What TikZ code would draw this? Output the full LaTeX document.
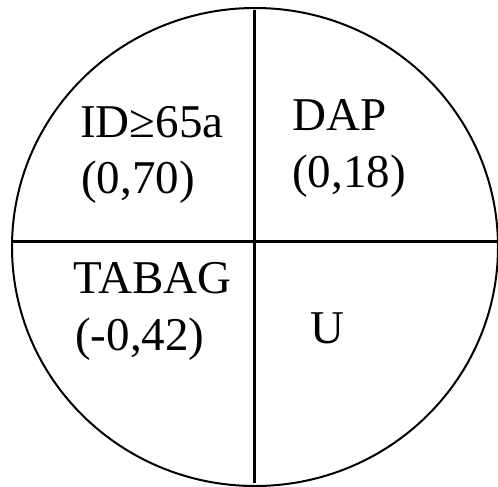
\documentclass[tikz,border=0pt]{standalone}
\usepackage{fontspec}
\setmainfont{Liberation Serif}
\begin{document}
\begin{tikzpicture}[x=1pt,y=-1pt,
  lbl/.style={anchor=base west,inner sep=0pt,font=\fontsize{47}{52}\selectfont},
  divider/.style={line width=3pt},
  rim/.style={line width=2pt}]
\useasboundingbox (0,0) rectangle (498,487);
\clip (0,0) rectangle (498,487);
\draw[rim] (255,247) ellipse [x radius=243, y radius=239];
\coordinate (vtop) at (254,10);
\coordinate (vbot) at (254,483);
\coordinate (hleft) at (13,241);
\coordinate (hright) at (500,241);
\draw[divider] (vtop) -- (vbot);
\draw[divider] (hleft) -- (hright);
\node[lbl] (id) at (80,137) {ID≥65a};
\node[lbl] (idv) at (81,193) {(0,70)};
\node[lbl] (dap) at (292,130) {DAP};
\node[lbl] (dapv) at (292,187) {(0,18)};
\node[lbl] (tab) at (73,293) {TABAG};
\node[lbl] (tabv) at (75,350) {(-0,42)};
\node[lbl] (u) at (310,343) {U};
\end{tikzpicture}
\end{document}
